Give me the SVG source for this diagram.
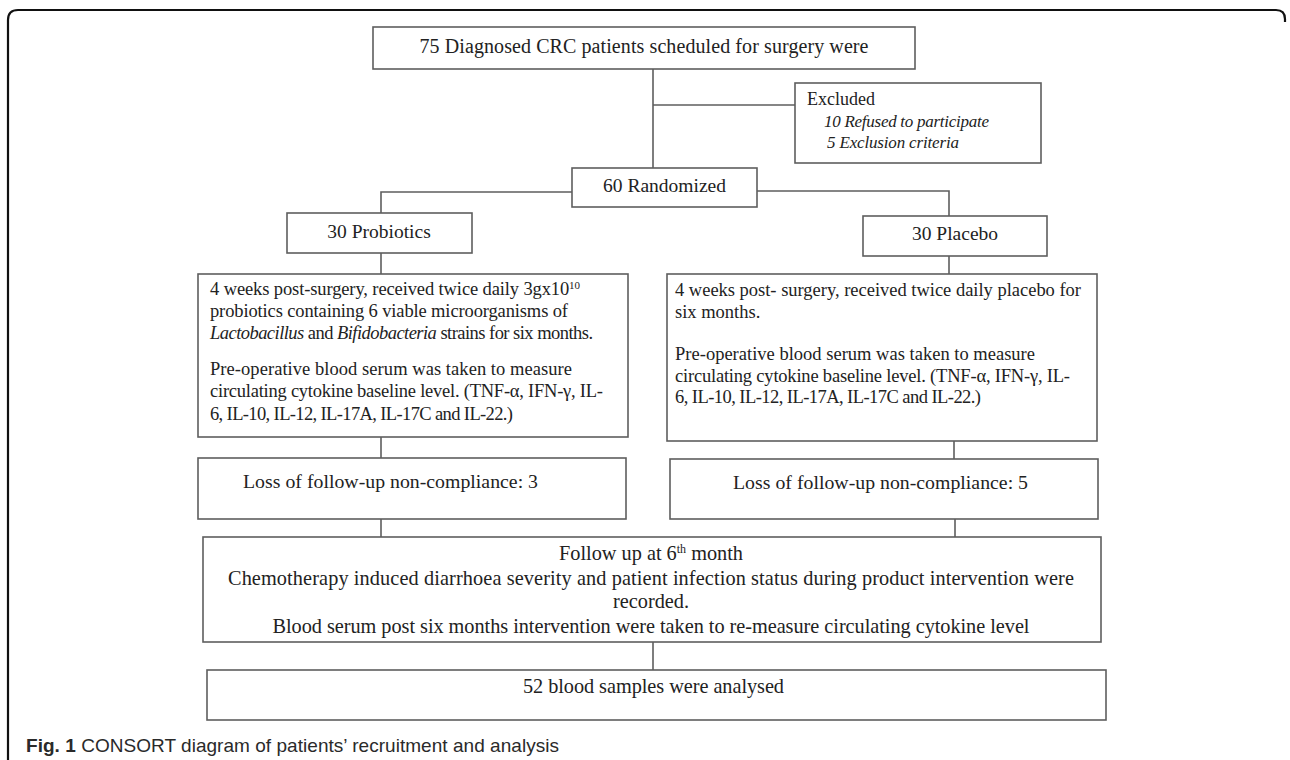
<svg xmlns="http://www.w3.org/2000/svg" width="1290" height="760" viewBox="0 0 1290 760">
  <style>
    .box { fill: #ffffff; stroke: #5e5e5e; stroke-width: 1.6; }
    .conn { fill: none; stroke: #5e5e5e; stroke-width: 1.6; }
    .t { font-family: "Liberation Serif", "Times New Roman", serif; fill: #222222; }
    .it { font-style: italic; }
    .cap { font-family: "Liberation Sans", Arial, sans-serif; fill: #2a2a2a; font-size: 19px; }
  </style>
  <defs>
    <clipPath id="fuClip"><rect x="200" y="535" width="905" height="103"/></clipPath>
  </defs>
  <rect x="0" y="0" width="1290" height="760" fill="#ffffff"/>
  <path d="M8,760 V20 Q8,10 18,10 H1276 Q1285,10 1285,19 V22" fill="none" stroke="#111111" stroke-width="2.2"/>

  <g id="connectors">
    <line class="conn" x1="653" y1="69" x2="653" y2="168"/>
    <line class="conn" x1="653" y1="105" x2="795" y2="105"/>
    <path class="conn" d="M572,192 H381 V213"/>
    <path class="conn" d="M757,191 H949 V216"/>
    <line class="conn" x1="381" y1="253" x2="381" y2="274"/>
    <line class="conn" x1="949" y1="256" x2="949" y2="274"/>
    <line class="conn" x1="381" y1="437" x2="381" y2="458"/>
    <line class="conn" x1="954" y1="441" x2="954" y2="459"/>
    <line class="conn" x1="381" y1="519" x2="381" y2="537"/>
    <line class="conn" x1="955" y1="519" x2="955" y2="537"/>
    <line class="conn" x1="653" y1="642" x2="653" y2="670"/>
  </g>

  <g id="node-diagnosed">
    <rect class="box" x="373" y="27" width="542" height="42"/>
    <text class="t" x="644" y="53" font-size="20" text-anchor="middle" textLength="449" lengthAdjust="spacing">75 Diagnosed CRC patients scheduled for surgery were</text>
  </g>

  <g id="node-excluded">
    <rect class="box" x="795" y="83" width="246" height="80"/>
    <text class="t" x="807" y="105" font-size="18">Excluded</text>
    <text class="t it" x="824" y="127" font-size="17" textLength="165" lengthAdjust="spacing">10 Refused to participate</text>
    <text class="t it" x="827" y="148" font-size="17" textLength="132" lengthAdjust="spacing">5 Exclusion criteria</text>
  </g>

  <g id="node-randomized">
    <rect class="box" x="572" y="168" width="185" height="39"/>
    <text class="t" x="664.5" y="192" font-size="19.5" text-anchor="middle">60 Randomized</text>
  </g>

  <g id="node-probiotics">
    <rect class="box" x="287" y="213" width="185" height="40"/>
    <text class="t" x="379" y="238" font-size="19.5" text-anchor="middle">30 Probiotics</text>
  </g>

  <g id="node-placebo">
    <rect class="box" x="863" y="216" width="184" height="40"/>
    <text class="t" x="955" y="240" font-size="19.5" text-anchor="middle">30 Placebo</text>
  </g>

  <g id="node-probiotics-detail">
    <rect class="box" x="198" y="274" width="430" height="163"/>
    <text class="t" x="210" y="295" font-size="18.5" textLength="370" lengthAdjust="spacing">4 weeks post-surgery, received twice daily 3gx10<tspan font-size="11" dy="-6">10</tspan></text>
    <text class="t" x="210" y="317" font-size="18.5" textLength="358" lengthAdjust="spacing">probiotics containing 6 viable microorganisms of</text>
    <text class="t" x="210" y="339" font-size="18.5" textLength="383" lengthAdjust="spacing"><tspan class="it">Lactobacillus</tspan> and <tspan class="it">Bifidobacteria</tspan> strains for six months.</text>
    <text class="t" x="210" y="375" font-size="18.5" textLength="362" lengthAdjust="spacing">Pre-operative blood serum was taken to measure</text>
    <text class="t" x="210" y="397" font-size="18.5" textLength="393" lengthAdjust="spacing">circulating cytokine baseline level. (TNF-α, IFN-γ, IL-</text>
    <text class="t" x="210" y="420" font-size="18.5" textLength="303" lengthAdjust="spacing">6, IL-10, IL-12, IL-17A, IL-17C and IL-22.)</text>
  </g>

  <g id="node-placebo-detail">
    <rect class="box" x="667" y="274" width="430" height="167"/>
    <text class="t" x="675" y="296" font-size="18.5" textLength="406" lengthAdjust="spacing">4 weeks post- surgery, received twice daily placebo for</text>
    <text class="t" x="675" y="318" font-size="18.5">six months.</text>
    <text class="t" x="675" y="360" font-size="18.5" textLength="360" lengthAdjust="spacing">Pre-operative blood serum was taken to measure</text>
    <text class="t" x="675" y="382" font-size="18.5" textLength="395" lengthAdjust="spacing">circulating cytokine baseline level. (TNF-α, IFN-γ, IL-</text>
    <text class="t" x="675" y="403" font-size="18.5" textLength="306" lengthAdjust="spacing">6, IL-10, IL-12, IL-17A, IL-17C and IL-22.)</text>
  </g>

  <g id="node-loss-probiotics">
    <rect class="box" x="198" y="458" width="428" height="61"/>
    <text class="t" x="243" y="488" font-size="19.8" textLength="295" lengthAdjust="spacing">Loss of follow-up non-compliance: 3</text>
  </g>

  <g id="node-loss-placebo">
    <rect class="box" x="670" y="459" width="428" height="60"/>
    <text class="t" x="733" y="489" font-size="19.8" textLength="295" lengthAdjust="spacing">Loss of follow-up non-compliance: 5</text>
  </g>

  <g id="node-followup">
    <rect class="box" x="203" y="537" width="898" height="105"/>
    <g clip-path="url(#fuClip)">
      <text class="t" x="651" y="560" font-size="20.3" text-anchor="middle">Follow up at 6<tspan font-size="12" dy="-7">th</tspan><tspan dy="7"> month</tspan></text>
      <text class="t" x="651" y="585" font-size="20.3" text-anchor="middle" textLength="846" lengthAdjust="spacing">Chemotherapy induced diarrhoea severity and patient infection status during product intervention were</text>
      <text class="t" x="651" y="608" font-size="20.3" text-anchor="middle">recorded.</text>
      <text class="t" x="651" y="633" font-size="20.3" text-anchor="middle" textLength="757" lengthAdjust="spacing">Blood serum post six months intervention were taken to re-measure circulating cytokine level</text>
    </g>
  </g>

  <g id="node-analysed">
    <rect class="box" x="207" y="670" width="899" height="50"/>
    <text class="t" x="523" y="693" font-size="20.3" textLength="261" lengthAdjust="spacing">52 blood samples were analysed</text>
  </g>

  <text class="cap" x="26" y="752" textLength="533" lengthAdjust="spacing"><tspan font-weight="bold">Fig. 1</tspan> CONSORT diagram of patients’ recruitment and analysis</text>
</svg>
